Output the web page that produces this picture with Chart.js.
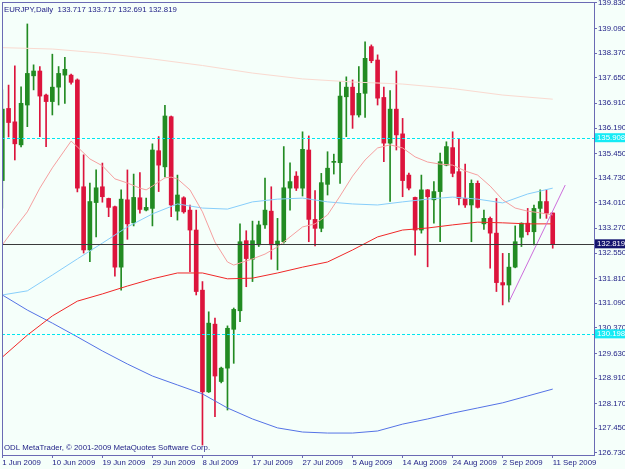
<!DOCTYPE html>
<html>
<head>
<meta charset="utf-8">
<script src="https://cdn.jsdelivr.net/npm/chart.js@4/dist/chart.umd.min.js"></script>
<style>
  html, body { margin: 0; padding: 0; background: #F5FFFA; }
  canvas { display: block; }
</style>
</head>
<body>
<canvas id="MTCHART" width="625" height="469"></canvas>
<script>
// EURJPY daily candles, 1 Jun 2009 .. 11 Sep 2009 (Sunday bars included)
const opens = [134.66, 136.76, 136.37, 135.70, 136.86, 137.71, 137.85, 137.15, 136.96, 137.38,
  137.73, 137.73, 137.59, 134.48, 132.64, 134.02, 134.48, 134.14, 133.90, 132.14,
  134.10, 133.43, 134.16, 133.80, 133.85, 135.53, 135.06, 136.52, 133.77, 134.16,
  133.80, 133.22, 131.47, 128.51, 130.48, 128.81, 129.20, 130.33, 130.87, 132.91,
  132.37, 132.79, 133.37, 133.77, 132.79, 132.88, 134.44, 134.79, 134.44, 135.55,
  133.53, 133.27, 134.55, 135.19, 135.18, 137.10, 137.38, 136.57, 137.20, 138.56,
  138.17, 137.08, 135.75, 136.74, 136.02, 134.82, 134.17, 133.22, 134.39, 134.10,
  134.34, 135.11, 135.62, 134.92, 134.14, 133.95, 134.58, 133.40, 133.56, 133.13,
  131.69, 131.62, 132.14, 133.01, 133.42, 133.17, 133.85, 134.05, 133.717];
const highs = [137.30, 137.44, 138.00, 137.39, 139.22, 138.03, 137.98, 137.18, 138.34, 137.98,
  138.25, 137.76, 137.62, 135.41, 134.59, 134.97, 135.17, 134.15, 133.92, 134.39,
  134.97, 134.85, 134.89, 134.15, 135.73, 135.94, 136.85, 136.54, 134.82, 134.19,
  133.95, 133.80, 131.72, 130.84, 130.66, 129.23, 130.43, 130.95, 133.40, 133.20,
  133.48, 133.48, 134.73, 134.48, 133.56, 135.65, 135.18, 134.92, 136.08, 135.96,
  134.37, 134.87, 135.50, 135.43, 137.54, 137.68, 137.59, 137.98, 138.70, 138.61,
  138.32, 137.38, 137.28, 137.85, 136.47, 134.88, 134.18, 134.82, 134.40, 134.63,
  135.46, 135.79, 136.08, 135.89, 135.14, 134.68, 134.65, 133.80, 133.60, 134.14,
  132.54, 132.54, 133.34, 133.43, 133.85, 133.95, 134.39, 134.39, 133.717];
const lows = [133.86, 135.93, 135.26, 135.64, 136.23, 137.30, 135.94, 135.65, 136.57, 136.86,
  136.91, 137.47, 134.33, 132.55, 132.30, 133.02, 134.03, 133.61, 131.88, 131.47,
  132.95, 133.34, 133.71, 133.78, 133.34, 134.34, 134.77, 133.61, 133.51, 133.71,
  132.01, 131.33, 126.96, 128.49, 127.79, 128.77, 127.98, 129.34, 130.55, 131.57,
  131.72, 132.74, 133.27, 132.37, 132.06, 132.84, 133.80, 134.37, 134.21, 132.88,
  132.76, 133.17, 134.24, 134.85, 134.58, 135.94, 136.18, 136.51, 136.50, 138.09,
  136.86, 135.21, 134.05, 135.55, 134.19, 134.39, 132.49, 133.13, 132.15, 133.42,
  132.88, 135.09, 134.77, 133.95, 133.88, 132.88, 133.86, 133.24, 132.11, 131.43,
  131.04, 131.13, 132.12, 132.74, 133.08, 132.79, 133.56, 133.56, 132.691];
const closes = [136.74, 136.35, 135.73, 136.91, 137.78, 137.85, 137.12, 136.96, 137.38, 137.78,
  137.90, 137.52, 134.44, 132.64, 134.05, 134.45, 134.19, 133.88, 132.14, 134.12,
  133.40, 134.17, 133.82, 133.88, 135.55, 135.11, 136.54, 133.95, 134.24, 133.75,
  133.22, 131.43, 128.51, 130.51, 128.97, 129.20, 130.36, 130.91, 132.88, 132.39,
  132.91, 133.37, 133.80, 132.79, 132.90, 134.45, 134.63, 134.44, 135.57, 133.53,
  133.27, 134.60, 135.02, 135.22, 137.12, 137.38, 136.57, 137.20, 138.22, 138.15,
  137.06, 135.75, 136.74, 135.99, 134.66, 134.44, 133.22, 134.39, 134.19, 134.34,
  135.21, 135.65, 134.87, 134.14, 133.95, 134.58, 133.88, 133.56, 133.13, 131.69,
  131.62, 132.14, 132.88, 133.42, 133.17, 133.85, 134.05, 133.71, 132.819];

// x axis: bar index of each date label
const dateIdx = [0, 8, 16, 24, 32, 40, 48, 56, 64, 72, 80, 88];
const dateLabels = ['1 Jun 2009', '10 Jun 2009', '19 Jun 2009', '29 Jun 2009', '8 Jul 2009', '17 Jul 2009',
  '27 Jul 2009', '5 Aug 2009', '14 Aug 2009', '24 Aug 2009', '2 Sep 2009', '11 Sep 2009'];
const priceTicks = [139.830, 139.090, 138.370, 137.650, 136.910, 136.190, 135.450, 134.730, 134.010,
  133.270, 132.550, 131.810, 131.090, 130.370, 129.630, 128.910, 128.170, 127.450, 126.730];

// moving averages
const slowIdx = [0, 8, 16, 24, 32, 40, 48, 56, 64, 72, 80, 88];
const peachMA = [138.53, 138.49, 138.37, 138.20, 138.01, 137.79, 137.62, 137.53, 137.47, 137.34, 137.15, 137.03];

const midIdx = [0, 4, 8, 12, 16, 20, 24, 28, 32, 36, 40, 44, 48, 52, 56, 60, 64, 68, 72, 76, 80, 84, 88];
const skyMA = [131.33, 131.45, 131.91, 132.38, 132.84, 133.31, 133.69, 133.98, 133.86, 133.83, 134.04, 134.12,
  134.15, 134.04, 133.98, 133.95, 134.04, 134.12, 134.18, 134.12, 134.01, 134.27, 134.44];
const redMA = [129.52, 130.16, 130.72, 131.15, 131.36, 131.59, 131.80, 131.97, 131.97, 131.80, 131.82, 131.97,
  132.14, 132.29, 132.64, 133.02, 133.22, 133.28, 133.37, 133.45, 133.43, 133.40, 133.40];
const blueMA = [131.33, 130.89, 130.51, 130.11, 129.70, 129.32, 128.97, 128.71, 128.45, 128.04, 127.72, 127.46,
  127.34, 127.31, 127.31, 127.37, 127.57, 127.72, 127.89, 128.04, 128.19, 128.39, 128.59];

const fastIdx = [0, 2, 4, 6, 8, 10, 11, 12, 14, 16, 18, 20, 22, 23, 24, 26, 27, 28, 30, 32, 34, 36, 37, 38,
  40, 42, 44, 46, 48, 50, 52, 54, 56, 58, 60, 62, 64, 66, 68, 70, 72, 74, 76, 78, 80, 82, 84, 86, 88];
const pinkMA = [132.79, 133.28, 133.75, 134.44, 135.03, 135.55, 135.81, 135.64, 135.29, 135.09, 134.71, 134.59,
  134.44, 134.39, 134.50, 134.74, 134.76, 134.71, 134.39, 133.75, 132.87, 132.29, 132.20, 132.26,
  132.38, 132.52, 132.73, 133.02, 133.31, 133.40, 133.66, 134.21, 134.79, 135.26, 135.61, 135.70,
  135.61, 135.35, 135.20, 135.14, 135.11, 134.94, 134.82, 134.50, 134.10, 133.86, 133.77, 133.72, 133.66];

const trendIdx = [81, 90];
const trendVal = [131.13, 134.53];

const levelLines = [135.908, 130.198];
const bidPrice = 132.819;
const titleText = 'EURJPY,Daily  133.717 133.717 132.691 132.819';
const copyText = 'ODL MetaTrader, \u00A9 2001-2009 MetaQuotes Software Corp.';

const BULL = 'rgb(34,139,34)';
const BEAR = 'rgb(220,20,60)';
const NAVY = '#1c1c84';
const AXIS = '#6a6ab4';
const FONT = { family: '"Liberation Sans", Arial, sans-serif', size: 7.8 };

const candleColor = opens.map((o, i) => closes[i] >= o ? BULL : BEAR);
const pts = (idx, vals) => idx.map((x, k) => ({ x: x, y: vals[k] }));

const lineSet = (label, data, color, order) => ({
  type: 'line', label: label, data: data, borderColor: color, borderWidth: 1,
  pointRadius: 0, tension: 0, fill: false, order: order
});

const mtDecor = {
  id: 'mtDecor',
  beforeDraw(chart) {
    const c = chart.ctx;
    c.save();
    c.fillStyle = '#F5FFFA';
    c.fillRect(0, 0, chart.width, chart.height);
    c.restore();
  },
  afterDatasetsDraw(chart) {
    const c = chart.ctx, a = chart.chartArea, ys = chart.scales.y;
    c.save();
    c.lineWidth = 1;
    c.strokeStyle = 'rgb(0,230,240)';
    c.setLineDash([3, 2]);
    levelLines.forEach(v => {
      const py = Math.round(ys.getPixelForValue(v)) + 0.5;
      c.beginPath(); c.moveTo(a.left, py); c.lineTo(a.right, py); c.stroke();
    });
    c.setLineDash([]);
    c.strokeStyle = '#3a3a3a';
    const by = Math.round(ys.getPixelForValue(bidPrice)) + 0.5;
    c.beginPath(); c.moveTo(a.left, by); c.lineTo(a.right, by); c.stroke();
    // frame
    c.strokeStyle = AXIS;
    c.strokeRect(a.left + 0.5, a.top + 0.5, a.right - a.left, a.bottom - a.top);
    c.restore();
  },
  afterDraw(chart) {
    const c = chart.ctx, a = chart.chartArea, ys = chart.scales.y;
    c.save();
    c.font = '7.8px "Liberation Sans", Arial, sans-serif';
    c.textBaseline = 'middle';
    const box = (v, bg, fg) => {
      const py = ys.getPixelForValue(v);
      c.fillStyle = bg;
      c.fillRect(a.right + 1, py - 4.5, chart.width - a.right - 1, 9);
      c.fillStyle = fg;
      c.fillText(v.toFixed(3), a.right + 3, py + 0.5);
    };
    levelLines.forEach(v => box(v, 'rgb(20,235,245)', '#ffffff'));
    box(bidPrice, '#14146e', '#ffffff');
    c.fillStyle = NAVY;
    c.fillText(titleText, a.left + 2, 10);
    c.fillText(copyText, a.left + 2, a.bottom - 7);
    c.restore();
  }
};

const ctx = document.getElementById('MTCHART');

const mt_chart = new Chart(ctx, {
  type: 'bar',
  data: {
    datasets: [
      lineSet('trend', pts(trendIdx, trendVal), 'rgb(205,110,220)', 0),
      lineSet('ma fast', pts(fastIdx, pinkMA), 'rgb(245,160,160)', 1),
      lineSet('ma sky', pts(midIdx, skyMA), 'rgb(135,206,250)', 1),
      lineSet('ma red', pts(midIdx, redMA), 'rgb(240,40,40)', 1),
      lineSet('ma blue', pts(midIdx, blueMA), 'rgb(85,115,230)', 1),
      lineSet('ma slow', pts(slowIdx, peachMA), 'rgb(250,218,208)', 1),
      {
        label: 'bodies',
        data: opens.map((o, i) => ({ x: i, y: [o, closes[i]] })),
        backgroundColor: candleColor,
        barThickness: 4,
        minBarLength: 1,
        grouped: false,
        order: 2
      },
      {
        label: 'wicks',
        data: lows.map((l, i) => ({ x: i, y: [l, highs[i]] })),
        backgroundColor: candleColor,
        barThickness: 1,
        grouped: false,
        order: 3
      }
    ]
  },
  options: {
    responsive: false,
    animation: false,
    devicePixelRatio: 1,
    layout: { padding: { left: 2, top: 2, right: 0, bottom: 0 } },
    plugins: {
      legend: { display: false },
      tooltip: { enabled: false }
    },
    scales: {
      x: {
        type: 'linear',
        min: -0.05,
        max: 94.6,
        offset: false,
        afterBuildTicks: s => { s.ticks = dateIdx.map(v => ({ value: v })); },
        afterFit: s => { s.height = 14; s.paddingLeft = 0; s.paddingRight = 0; },
        ticks: {
          callback: v => dateLabels[dateIdx.indexOf(v)],
          align: 'start',
          maxRotation: 0,
          autoSkip: false,
          padding: 0,
          color: NAVY,
          font: FONT
        },
        grid: { drawOnChartArea: false, drawTicks: true, tickLength: 3, color: AXIS, offset: false },
        border: { color: AXIS, width: 1 }
      },
      y: {
        position: 'right',
        min: 126.671,
        max: 139.859,
        afterBuildTicks: s => { s.ticks = priceTicks.map(v => ({ value: v })); },
        afterFit: s => { s.width = 31; s.paddingTop = 0; s.paddingBottom = 0; },
        ticks: {
          callback: v => v.toFixed(3),
          autoSkip: false,
          padding: 1,
          color: NAVY,
          font: FONT
        },
        grid: { drawOnChartArea: false, drawTicks: true, tickLength: 3, color: AXIS },
        border: { color: AXIS, width: 1 }
      }
    }
  },
  plugins: [mtDecor]
});
</script>
</body>
</html>
